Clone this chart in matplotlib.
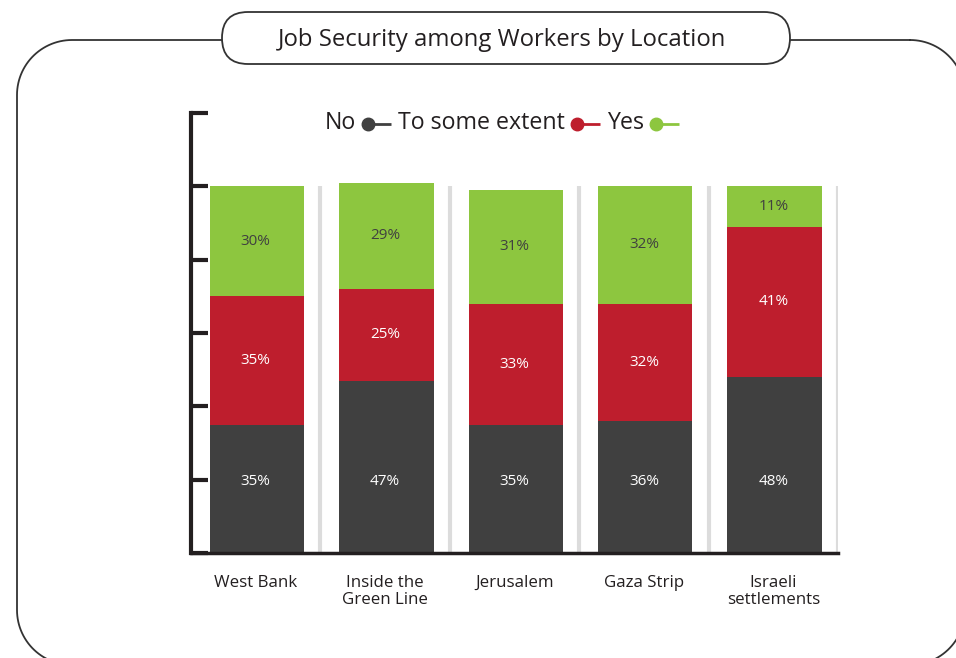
import matplotlib
matplotlib.use("Agg")
import numpy as np
import matplotlib.pyplot as plt
from matplotlib.patches import FancyBboxPatch

plt.rcParams['font.family'] = ['Open Sans', 'DejaVu Sans']

# data
locations = ["West Bank", "Inside the\nGreen Line", "Jerusalem", "Gaza Strip", "Israeli\nsettlements"]
answers = ["No", "To some extent", "Yes"]
no_vals = [35, 47, 35, 36, 48]
some_vals = [35, 25, 33, 32, 41]
yes_vals = [30, 29, 31, 32, 11]
title = "Job Security among Workers by Location"

colors = ["#404040", "#be1e2d", "#8dc63f"]
label_colors = ["white", "white", "#404040"]
ink = "#231f20"

W, H = 956, 658
fig = plt.figure(figsize=(W / 100, H / 100), dpi=100)

# background layer in pixel units (y measured from the top)
bg = fig.add_axes([0, 0, 1, 1], zorder=0)
bg.set_xlim(0, W)
bg.set_ylim(0, H)
bg.axis("off")

def fy(y):
    return H - y

# outer rounded frame, built from four quarter arcs
def rounded_rect(x0, y0, x1, y1, rad, n=30):
    xs, ys = [], []
    corners = [(x1 - rad, y0 + rad, -90, 0), (x1 - rad, y1 - rad, 0, 90),
               (x0 + rad, y1 - rad, 90, 180), (x0 + rad, y0 + rad, 180, 270)]
    for cx, cy, a0, a1 in corners:
        a = np.radians(np.linspace(a0, a1, n))
        xs.extend(cx + rad * np.cos(a))
        ys.extend(cy + rad * np.sin(a))
    xs.append(xs[0])
    ys.append(ys[0])
    return np.array(xs), np.array(ys)

fx, fyy = rounded_rect(17, 40, 965, 665, 55)
bg.plot(fx, fy(fyy), color="#333333", lw=1.3, clip_on=True)

tbox = FancyBboxPatch((222, fy(64)), 568, 52, boxstyle="round,pad=0,rounding_size=26",
                      fc="white", ec="#333333", lw=1.3, zorder=3)
bg.add_patch(tbox)
bg.text(502, fy(40), title, ha="center", va="center", fontsize=17.2, color=ink, zorder=4)

# legend: label first, then dot + short line
r = fig.canvas.get_renderer()
x = 325
for lab, c in zip(answers, colors):
    t = bg.text(x, fy(123), lab, ha="left", va="center", fontsize=16.7, color=ink)
    w = t.get_window_extent(r).width
    dot = x + w + 12
    bg.plot([dot, dot + 23], [fy(124), fy(124)], color=c, lw=2, solid_capstyle="butt")
    bg.plot([dot], [fy(124)], "o", color=c, ms=9)
    x = dot + 30

# main chart
ax = fig.add_axes([191 / W, 1 - 553 / H, (838 - 191) / W, (553 - 113) / H], zorder=1)
ax.patch.set_alpha(0)
xpos = np.arange(len(locations))
series = [no_vals, some_vals, yes_vals]
bottom = np.zeros(len(locations))
for k, (vals, c) in enumerate(zip(series, colors)):
    vals = np.array(vals, dtype=float)
    ax.bar(xpos + 0.01, vals, 0.73, bottom=bottom, color=c, zorder=2)
    for i, v in enumerate(vals):
        yl = 19.5 if k == 0 else bottom[i] + v / 2
        ax.text(xpos[i], yl, f"{int(v)}%", ha="center", va="center",
                fontsize=11, color=label_colors[k], zorder=3)
    bottom += vals

for i in xpos:
    ax.plot([i + 0.5, i + 0.5], [0, 100], color="#dcdcdc", lw=3, zorder=1, solid_capstyle="butt")

ax.set_xlim(-0.5, 4.5)
ax.set_ylim(0, 120)
ax.set_yticks(np.arange(0, 121, 20))
ax.set_yticklabels([])
ax.tick_params(axis="y", direction="in", length=12, width=3, color=ink)
ax.set_xticks(xpos)
ax.set_xticklabels(locations, fontsize=12.2, color=ink, linespacing=1.1)
ax.tick_params(axis="x", length=0, pad=16)
for s in ["top", "right"]:
    ax.spines[s].set_visible(False)
ax.spines["left"].set_linewidth(3)
ax.spines["bottom"].set_linewidth(2.5)
ax.spines["left"].set_color(ink)
ax.spines["bottom"].set_color(ink)

fig.savefig("out.png", dpi=100)
